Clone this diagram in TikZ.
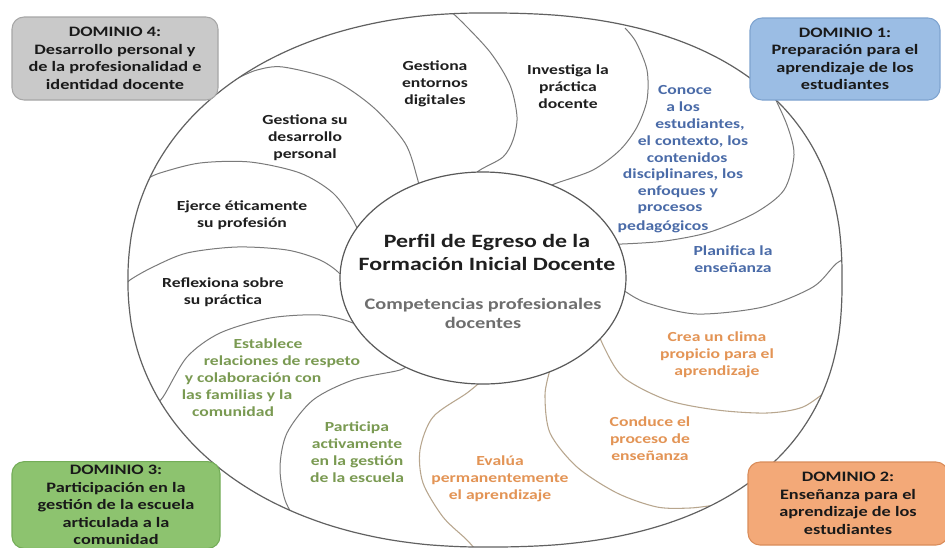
\documentclass[tikz,border=0pt]{standalone}
\usepackage{fontspec}
\setmainfont{Carlito}[FakeStretch=1.27]
\definecolor{tblue}{HTML}{4A6BA8}
\definecolor{torange}{HTML}{E39455}
\definecolor{tgreen}{HTML}{7A9A52}
\definecolor{tgray}{HTML}{6E6E6E}
\definecolor{dfour}{HTML}{C9C9C9}
\definecolor{dfourl}{HTML}{A6A6A6}
\definecolor{done}{HTML}{9BBDE4}
\definecolor{donel}{HTML}{7EA3CF}
\definecolor{dthree}{HTML}{8DC36F}
\definecolor{dthreel}{HTML}{74AD58}
\definecolor{dtwo}{HTML}{F3A978}
\definecolor{dtwol}{HTML}{D98C5A}
\definecolor{tanline}{HTML}{B8A68E}
\def\outerpath{plot[domain=-90:90, samples=91, smooth] ({485+357*(abs(cos(\x))+0.0001)^0.8333}, {280+267*sign(sin(\x))*(abs(sin(\x))+0.0001)^0.8333}) -- plot[domain=90:270, samples=91, smooth] ({485-357*(abs(cos(\x))+0.0001)^0.9302}, {280+267*sign(sin(\x))*(abs(sin(\x))+0.0001)^0.9302}) -- cycle}
\begin{document}
\begin{tikzpicture}[x=0.75pt,y=-0.75pt,
  outerline/.style={draw=black!62, line width=0.9pt},
  petalline/.style={draw=black!52, line width=0.75pt},
  petaltan/.style={draw=tanline, line width=0.8pt},
  ptext/.style={font=\bfseries\fontsize{10.4}{12.75}\selectfont, align=center, inner sep=0pt, text=black!88},
  dombox/.style={rounded corners=9pt, line width=0.8pt, align=center, font=\bfseries\fontsize{10.8}{13.1}\selectfont, inner sep=0pt, text=black!90}
]
\useasboundingbox (0,0) rectangle (945,547);
\fill[white] (0,0) rectangle (945,547);

% petal boundaries
\begin{scope}
\clip \outerpath;
\draw[petalline] plot[smooth] coordinates {(238,78) (257,70) (283,67) (333,80) (373,107) (405,143) (417,177) (422,200)};
\draw[petalline] plot[smooth] coordinates {(445,8) (458,18) (490,52) (510,85) (517,117) (513,140) (503,157) (480,170) (465,182)};
\draw[petalline] plot[smooth] coordinates {(625,28) (636,42) (647,70) (647,100) (637,127) (620,150) (593,170) (557,183) (540,190)};
\draw[petalline] plot[smooth] coordinates {(772,92) (787,125) (794,155) (784,190) (755,213) (710,232) (665,241) (622,244) (600,244)};
\draw[petalline] plot[smooth] coordinates {(855,255) (837,263) (813,287) (763,307) (697,314) (647,303) (623,290) (610,280)};
\draw[petaltan] plot[smooth] coordinates {(598,330) (603,345) (623,377) (667,400) (717,410) (767,413) (803,407) (830,388)};
\draw[petaltan] plot[smooth] coordinates {(550,370) (545,395) (550,433) (577,467) (617,493) (657,507) (690,508) (715,505)};
\draw[petaltan] plot[smooth] coordinates {(485,378) (467,393) (433,417) (420,450) (423,483) (443,517) (467,540) (480,555)};
\draw[petalline] plot[smooth] coordinates {(410,362) (400,370) (353,380) (313,400) (287,433) (280,467) (285,500) (300,527) (310,540)};
\draw[petalline] plot[smooth] coordinates {(150,410) (163,397) (187,357) (220,333) (270,318) (320,315) (353,323) (370,335)};
\draw[petalline] plot[smooth] coordinates {(120,290) (130,280) (153,267) (187,253) (237,247) (287,250) (320,260) (340,274) (352,295)};
\draw[petalline] plot[smooth] coordinates {(145,180) (160,173) (200,163) (250,162) (300,173) (333,193) (353,220) (362,240)};
\end{scope}

% centre and outer
\filldraw[fill=white, draw=black!65, line width=0.9pt] (483,278) ellipse [x radius=143, y radius=106];
\draw[outerline] \outerpath;

% centre text
\node[font=\bfseries\fontsize{14.1}{17.25}\selectfont, align=center, inner sep=0pt, text=black!88] (perfil) at (487,252) {Perfil de Egreso de la\\Formación Inicial Docente};
\node[font=\bfseries\fontsize{12}{14.25}\selectfont, align=center, inner sep=0pt, text=tgray] (comp) at (483,313) {Competencias profesionales\\docentes};

% black petals
\node[ptext] (ge) at (435,84) {Gestiona\\entornos\\digitales};
\node[ptext] (inv) at (568,87) {Investiga la\\práctica\\docente};
\node[ptext] (gd) at (305,138) {Gestiona su\\desarrollo\\personal};
\node[ptext] (ej) at (242,215) {Ejerce éticamente\\su profesión};
\node[ptext] (re) at (223,292) {Reflexiona sobre\\su práctica};

% blue petals
\foreach \t/\x/\y [count=\i] in {Conoce/685/90, a los/683/107, {estudiantes,}/700/125, {el contexto, los}/693/142, contenidos/687/158, {disciplinares, los}/683/175, enfoques y/678/192, procesos/670/209, pedagógicos/663/227}
  \node[ptext, text=tblue] (con\i) at (\x,\y) {\t};
\node[ptext, text=tblue] (pla) at (733,259) {Planifica la\\enseñanza};

% orange petals
\node[ptext, text=torange] (cre) at (717,355) {Crea un clima\\propicio para el\\aprendizaje};
\node[ptext, text=torange] (cond) at (650,439) {Conduce el\\proceso de\\enseñanza};
\node[ptext, text=torange] (eva) at (500,479) {Evalúa\\permanentemente\\el aprendizaje};

% green petals
\node[ptext, text=tgreen] (par) at (357,452) {Participa\\activamente\\en la gestión\\de la escuela};
\foreach \t/\x/\y [count=\i] in {Establece/268/344, relaciones de respeto/282/362, y colaboración con/253/379, las familias y la/237/396, comunidad/233/412}
  \node[ptext, text=tgreen] (est\i) at (\x,\y) {\t};

% domain boxes
\node[dombox, fill=dfour, draw=dfourl, minimum width=154.5pt, minimum height=62.25pt] (d4) at (115,58.5) {DOMINIO 4:\\Desarrollo personal y\\de la profesionalidad e\\identidad docente};
\node[dombox, fill=done, draw=donel, minimum width=142.5pt, minimum height=61.5pt] (d1) at (845,59) {DOMINIO 1:\\Preparación para el\\aprendizaje de los\\estudiantes};
\node[dombox, fill=dthree, draw=dthreel, minimum width=156pt, minimum height=65pt] (d3) at (116,505) {DOMINIO 3:\\Participación en la\\gestión de la escuela\\articulada a la\\comunidad};
\node[dombox, fill=dtwo, draw=dtwol, minimum width=150pt, minimum height=62.25pt] (d2) at (848,503.5) {DOMINIO 2:\\Enseñanza para el\\aprendizaje de los\\estudiantes};
\end{tikzpicture}
\end{document}
